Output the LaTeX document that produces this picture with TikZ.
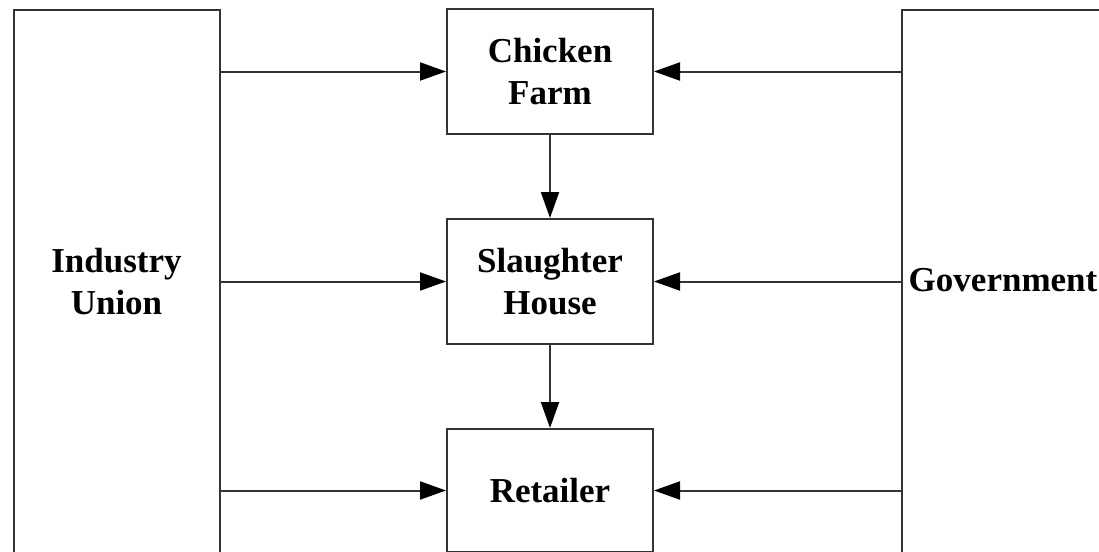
\documentclass[tikz,border=0pt]{standalone}
\usepackage{fontspec}
\setmainfont{Liberation Serif}
\usepackage{tikz}
\usetikzlibrary{arrows.meta,positioning}

\tikzset{
	box/.style = {draw=black!80, line width=2pt, minimum width=206pt, minimum height=125pt, inner sep=0pt},
	lbl/.style = {align=center, inner sep=0pt, font=\bfseries\fontsize{35}{42}\selectfont},
	arr/.style = {draw=black!80, line width=2pt, -{Triangle[length=26pt,width=18pt,color=black]}}
}

\begin{document}
\begin{tikzpicture}[x=1pt, y=-1pt]
				\useasboundingbox (0,0) rectangle (1099,551);
				\clip (0,0) rectangle (1099,551);
				% middle chain
				\node[box, lbl] (farm) at (550,71.5) {Chicken\\Farm};
				\node[box, lbl, below=83pt of farm] (slaughter) {Slaughter\\House};
				\node[box, lbl, minimum height=123pt, below=83pt of slaughter] (retailer) {Retailer};
				% the two tall boxes, open at the page edge
				\node[box, minimum height=570pt, anchor=north west] (union) at (12.5,9) {};
				\node[box, minimum width=230pt, minimum height=570pt, anchor=north west] (govt) at (900.5,9) {};
				\node[lbl] (unionlbl) at (union.center |- slaughter) {Industry\\Union};
				\node[lbl] (govtlbl) at (1003,280) {Government};

				\draw[arr] (farm) -- (slaughter);
				\draw[arr] (slaughter) -- (retailer);
				\foreach \n in {farm,slaughter,retailer}
				{
				\draw[arr] (union.east |- \n.west) -- (\n.west);
				\draw[arr] (govt.west |- \n.east) -- (\n.east);
				}

			\end{tikzpicture}
\end{document}
